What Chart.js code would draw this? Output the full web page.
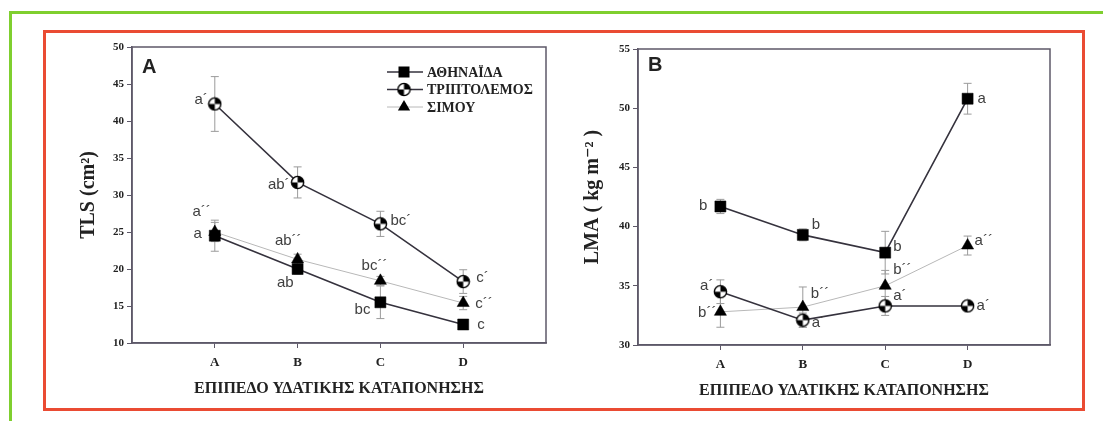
<!DOCTYPE html>
<html lang="el">
<head>
<meta charset="UTF-8">
<title>TLS και LMA ανά επίπεδο υδατικής καταπόνησης</title>
<script src="https://cdn.jsdelivr.net/npm/chart.js"></script>
<style>
  body { margin: 0; background: #fff; width: 1103px; height: 421px; overflow: hidden; position: relative; }
  .green { position: absolute; left: 9px; top: 11px; right: 0; bottom: 0; border-top: 3px solid #7fcf2f; border-left: 3px solid #7fcf2f; }
  .red { position: absolute; left: 43px; top: 30px; width: 1036px; height: 375px; border: 3px solid #ea4b33; }
  canvas { position: absolute; }
  #tlsChart { left: 60px; top: 37px; }
  #lmaChart { left: 566px; top: 39px; }
</style>
</head>
<body>
<div class="green"></div>
<div class="red"></div>
<canvas id="tlsChart" width="500" height="366"></canvas>
<canvas id="lmaChart" width="500" height="366"></canvas>

<script>
const categories = ['A', 'B', 'C', 'D'];
const seriesNames = ['ΑΘΗΝΑΪΔΑ', 'ΤΡΙΠΤΟΛΕΜΟΣ', 'ΣΙΜΟΥ'];
const xTitle = 'ΕΠΙΠΕΔΟ ΥΔΑΤΙΚΗΣ ΚΑΤΑΠΟΝΗΣΗΣ';

// panel A - TLS (cm²)
const tlsAthinaida = [24.5, 20.0, 15.5, 12.5];
const tlsTriptolemos = [42.3, 31.7, 26.1, 18.3];
const tlsSimou = [25.0, 21.3, 18.4, 15.4];
const tlsErrAthinaida = [2.1, 0.7, 2.2, 0.4];
const tlsErrTriptolemos = [3.7, 2.1, 1.7, 1.6];
const tlsErrSimou = [1.3, 0.7, 0.6, 0.9];
const tlsLettersAthinaida = ['a', 'ab', 'bc', 'c'];
const tlsLettersTriptolemos = ['a´', 'ab´', 'bc´', 'c´'];
const tlsLettersSimou = ['a´´', 'ab´´', 'bc´´', 'c´´'];

// panel B - LMA (kg m-2)
const lmaAthinaida = [41.7, 39.3, 37.8, 50.8];
const lmaTriptolemos = [34.5, 32.1, 33.3, 33.3];
const lmaSimou = [32.8, 33.2, 35.0, 38.4];
const lmaErrAthinaida = [0.6, 0.5, 1.8, 1.3];
const lmaErrTriptolemos = [1.0, 0.6, 0.8, 0.2];
const lmaErrSimou = [1.3, 1.7, 1.3, 0.8];
const lmaLettersAthinaida = ['b', 'b', 'b', 'a'];
const lmaLettersTriptolemos = ['a´', 'a´', 'a´', 'a´'];
const lmaLettersSimou = ['b´´', 'b´´', 'b´´', 'a´´'];

// where each significance letter sits relative to its marker: [dx, dy, align]
const tlsLetterPos = [
  [[-13, -2, 'right'], [-4, 14, 'right'], [-10, 8, 'right'], [14, 0, 'left']],
  [[-7, -4, 'right'], [-8, 2, 'right'], [10, -3, 'left'], [13, -4, 'left']],
  [[-4, -20, 'right'], [4, -19, 'right'], [7, -15, 'right'], [12, 1, 'left']]
];
const lmaLetterPos = [
  [[-13, -1, 'right'], [9, -10, 'left'], [8, -6, 'left'], [10, 0, 'left']],
  [[-7, -6, 'right'], [9, 3, 'left'], [8, -10, 'left'], [9, 0, 'left']],
  [[-4, 1, 'right'], [8, -13, 'left'], [8, -16, 'left'], [7, -5, 'left']]
];

const SERIF = "'Liberation Serif', 'DejaVu Serif', serif";
const SANS = "'Liberation Sans', Arial, sans-serif";
const AXIS = '#5d5868';

// half filled circle marker (top-right and bottom-left quarters black)
const halfCircle = document.createElement('canvas');
halfCircle.width = 15; halfCircle.height = 15;
(function () {
  const c = halfCircle.getContext('2d'), r = 6.1;
  c.beginPath(); c.arc(7.5, 7.5, r, 0, Math.PI * 2); c.fillStyle = '#fff'; c.fill();
  c.fillStyle = '#000';
  c.beginPath(); c.moveTo(7.5, 7.5); c.arc(7.5, 7.5, r, -Math.PI / 2, 0); c.closePath(); c.fill();
  c.beginPath(); c.moveTo(7.5, 7.5); c.arc(7.5, 7.5, r, Math.PI / 2, Math.PI); c.closePath(); c.fill();
  c.beginPath(); c.arc(7.5, 7.5, r, 0, Math.PI * 2); c.lineWidth = 1.4; c.strokeStyle = '#000'; c.stroke();
})();

const styles = [
  { borderColor: '#35323d', borderWidth: 1.6, pointStyle: 'rect', pointRadius: 7.8,
    pointBackgroundColor: '#000', pointBorderColor: '#000', pointBorderWidth: 0.5 },
  { borderColor: '#35323d', borderWidth: 1.6, pointStyle: halfCircle, pointRadius: 6 },
  { borderColor: '#b8b8b8', borderWidth: 1, pointStyle: 'triangle', pointRadius: 7,
    pointBackgroundColor: '#000', pointBorderColor: '#000', pointBorderWidth: 0.5 }
];

function makeSeries(i, values, errors, letters, letterPos) {
  return Object.assign({
    label: seriesNames[i],
    data: values.map((v, j) => ({ x: j + 1, y: v })),
    errors: errors,
    letters: letters,
    letterPos: letterPos,
    showLine: true,
    fill: false,
    tension: 0
  }, styles[i]);
}

function drawMarker(ctx, i, x, y) {
  ctx.save();
  ctx.fillStyle = '#000';
  if (i === 0) {
    ctx.fillRect(x - 5.5, y - 5.5, 11, 11);
  } else if (i === 1) {
    ctx.drawImage(halfCircle, x - 7.5, y - 7.5);
  } else {
    ctx.beginPath();
    ctx.moveTo(x, y - 7); ctx.lineTo(x + 6.1, y + 3.5); ctx.lineTo(x - 6.1, y + 3.5);
    ctx.closePath(); ctx.fill();
  }
  ctx.restore();
}

function extras(panel) {
  return {
    id: 'extras',
    beforeDatasetsDraw(chart) {
      const ctx = chart.ctx, ys = chart.scales.y;
      ctx.save();
      ctx.strokeStyle = '#9b9b9b';
      ctx.lineWidth = 1;
      chart.data.datasets.forEach((ds, i) => {
        chart.getDatasetMeta(i).data.forEach((pt, j) => {
          const v = ds.data[j].y, e = ds.errors[j];
          const top = ys.getPixelForValue(v + e), bot = ys.getPixelForValue(v - e);
          ctx.beginPath();
          ctx.moveTo(pt.x, top); ctx.lineTo(pt.x, bot);
          ctx.moveTo(pt.x - 4, top); ctx.lineTo(pt.x + 4, top);
          ctx.moveTo(pt.x - 4, bot); ctx.lineTo(pt.x + 4, bot);
          ctx.stroke();
        });
      });
      ctx.restore();
    },
    afterDraw(chart) {
      const ctx = chart.ctx, a = chart.chartArea;
      ctx.save();
      // letters next to the markers
      ctx.font = '15px ' + SANS;
      ctx.fillStyle = '#404040';
      ctx.textBaseline = 'middle';
      chart.data.datasets.forEach((ds, i) => {
        chart.getDatasetMeta(i).data.forEach((pt, j) => {
          const p = ds.letterPos[j];
          ctx.textAlign = p[2];
          ctx.fillText(ds.letters[j], pt.x + p[0], pt.y + p[1]);
        });
      });
      // full frame round the plot
      ctx.strokeStyle = AXIS;
      ctx.lineWidth = 1.5;
      ctx.strokeRect(a.left, a.top, a.right - a.left, a.bottom - a.top);
      // panel letter
      ctx.font = 'bold 20px ' + SANS;
      ctx.fillStyle = '#222';
      ctx.textAlign = 'left';
      ctx.fillText(panel.letter, a.left + 10, a.top + panel.letterDy);
      // legend
      if (panel.legend) {
        ctx.font = 'bold 14px ' + SERIF;
        chart.data.datasets.forEach((ds, i) => {
          const lx = a.left + 255, ly = a.top + 25 + i * 17.5;
          ctx.strokeStyle = ds.borderColor;
          ctx.lineWidth = ds.borderWidth;
          ctx.beginPath(); ctx.moveTo(lx, ly); ctx.lineTo(lx + 36, ly); ctx.stroke();
          drawMarker(ctx, i, lx + 17, ly);
          ctx.fillStyle = '#222';
          ctx.textAlign = 'left';
          ctx.fillText(ds.label, lx + 40, ly + 1);
        });
      }
      ctx.restore();
    }
  };
}

function makePanel(id, datasets, yMin, yMax, yTitle, panel) {
  new Chart(document.getElementById(id), {
    type: 'line',
    data: { datasets: datasets },
    options: {
      responsive: false,
      animation: false,
      events: [],
      layout: { padding: { left: 0, top: 10, right: panel.right, bottom: 0 } },
      plugins: { legend: { display: false }, tooltip: { enabled: false } },
      scales: {
        x: {
          type: 'linear', min: 0, max: 5,
          afterBuildTicks: s => { s.ticks = s.ticks.filter(t => t.value >= 1 && t.value <= 4); },
          afterFit: s => { s.height = 60; },
          ticks: { stepSize: 1, padding: 7, color: '#222',
                   font: { family: SERIF, weight: 'bold', size: 13 },
                   callback: v => categories[v - 1] || '' },
          grid: { drawOnChartArea: false, drawTicks: true, tickLength: 5, color: AXIS },
          border: { color: AXIS, width: 1.5 },
          title: { display: true, text: xTitle, color: '#222', padding: { top: 0, bottom: 5 },
                   font: { family: SERIF, weight: 'bold', size: 16 } }
        },
        y: {
          min: yMin, max: yMax,
          afterFit: s => { s.width = 72; },
          ticks: { stepSize: 5, padding: 3, color: '#222',
                   font: { family: SERIF, weight: 'bold', size: 11 } },
          grid: { drawOnChartArea: false, drawTicks: true, tickLength: 5, color: AXIS },
          border: { color: AXIS, width: 1.5 },
          title: { display: true, text: yTitle, color: '#222', padding: { top: panel.titlePad, bottom: 0 },
                   font: { family: SERIF, weight: 'bold', size: 20 } }
        }
      }
    },
    plugins: [extras(panel)]
  });
}

makePanel('tlsChart', [
  makeSeries(0, tlsAthinaida, tlsErrAthinaida, tlsLettersAthinaida, tlsLetterPos[0]),
  makeSeries(1, tlsTriptolemos, tlsErrTriptolemos, tlsLettersTriptolemos, tlsLetterPos[1]),
  makeSeries(2, tlsSimou, tlsErrSimou, tlsLettersSimou, tlsLetterPos[2])
], 10, 50, 'TLS (cm²)', { letter: 'A', letterDy: 20, legend: true, right: 14, titlePad: 17 });

makePanel('lmaChart', [
  makeSeries(0, lmaAthinaida, lmaErrAthinaida, lmaLettersAthinaida, lmaLetterPos[0]),
  makeSeries(1, lmaTriptolemos, lmaErrTriptolemos, lmaLettersTriptolemos, lmaLetterPos[1]),
  makeSeries(2, lmaSimou, lmaErrSimou, lmaLettersSimou, lmaLetterPos[2])
], 30, 55, 'LMA ( kg m⁻² )', { letter: 'B', letterDy: 16, legend: false, right: 16, titlePad: 15 });
</script>
</body>
</html>
